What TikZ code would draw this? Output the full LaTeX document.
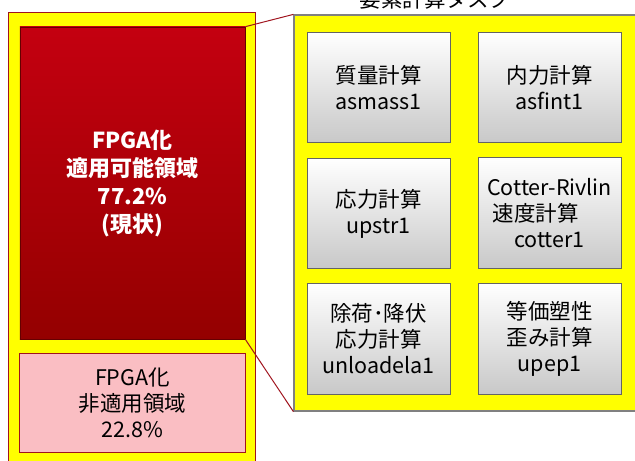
\documentclass[tikz,border=0pt]{standalone}
\usepackage{fontspec}
\setmainfont{Noto Sans CJK JP}
\definecolor{bgyellow}{RGB}{255,255,0}
\definecolor{framered}{RGB}{160,20,30}
\definecolor{redtop}{RGB}{196,0,16}
\definecolor{redbottom}{RGB}{148,0,0}
\definecolor{pinkfill}{RGB}{250,190,195}
\definecolor{boxgray}{RGB}{200,200,200}
\definecolor{edgegray}{RGB}{100,100,100}
\begin{document}
\begin{tikzpicture}[x=1bp, y=-1bp,
  txt/.style = {font=\fontsize{21.5bp}{26bp}\selectfont, align=center, inner sep=0pt},
  area/.style = {draw=framered, line width=1bp, fill=bgyellow, inner sep=0pt},
  taskarea/.style = {draw=gray, line width=1.2bp, fill=bgyellow, inner sep=0pt},
  usable/.style = {txt, draw=red!40!black, line width=0.6bp, top color=redtop, bottom color=redbottom,
    text=white, font=\fontsize{22bp}{28bp}\selectfont\bfseries, minimum width=225bp, minimum height=312bp},
  unusable/.style = {txt, draw=framered, line width=1bp, fill=pinkfill, minimum width=225bp, minimum height=99bp},
  task/.style = {txt, draw=edgegray, line width=1bp, top color=white, bottom color=boxgray,
    minimum width=143bp, minimum height=110bp},
  link/.style = {draw=framered, line width=1bp}]
\useasboundingbox (0,0) rectangle (635,461);
\clip (0,0) rectangle (635,461);

\node[area, minimum width=246bp, minimum height=457bp] (left) at (132,241.5) {};
\node[usable] (fpga) at (132.5,183) {FPGA化\\適用可能領域\\77.2\%\\(現状)};
\node[unusable] (nonfpga) at (132.5,402.5) {FPGA化\\非適用領域\\22.8\%};

\node[taskarea, minimum width=346bp, minimum height=396bp] (tasks) at (467,213) {};
\node[txt] (title) at (435,-1) {要素計算タスク};

\node[task] (mass) at (378.5,88) {質量計算\\asmass1};
\node[task] (fint) at (549.5,88) {内力計算\\asfint1};
\node[task] (str) at (378.5,213.5) {応力計算\\upstr1};
\node[task] (cotter) at (549.5,213) {Cotter-Rivlin\\速度計算\rule{28bp}{0pt}\\cotter1};
\node[task] (unload) at (378.5,339) {除荷･降伏\\応力計算\\unloadela1};
\node[task] (upep) at (549.5,339) {等価塑性\\歪み計算\\upep1};

\draw[link] (fpga.north east) -- (tasks.north west);
\draw[link] (fpga.south east) -- (tasks.south west);

\end{tikzpicture}
\end{document}
